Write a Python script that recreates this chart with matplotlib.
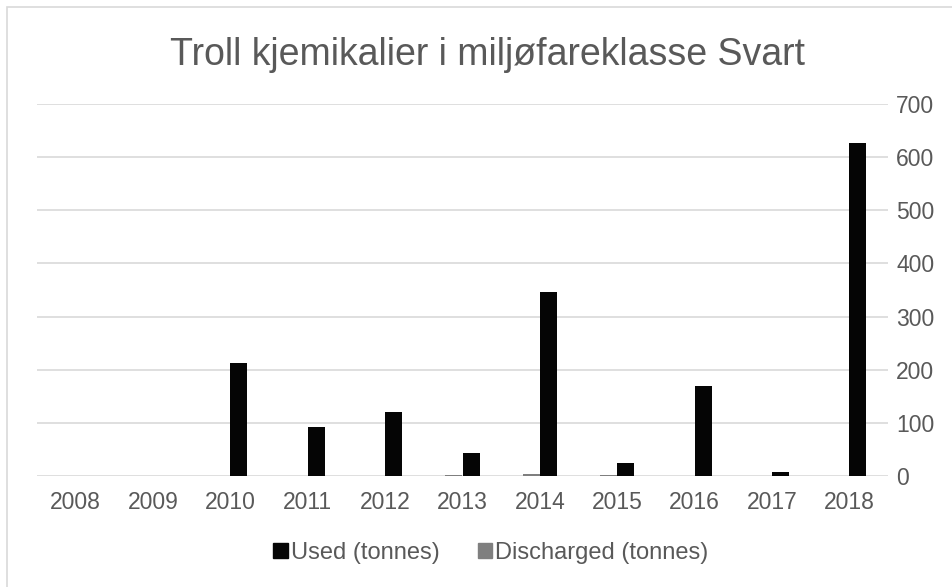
import matplotlib
matplotlib.use("Agg")
import matplotlib.pyplot as plt
from matplotlib.patches import Rectangle, Patch
import numpy as np

years = ["2008", "2009", "2010", "2011", "2012", "2013", "2014", "2015", "2016", "2017", "2018"]
used = [0, 0, 212, 92, 120, 44, 347, 25, 170, 8, 627]
discharged = [0, 0, 0, 0, 0, 1, 3, 1, 0, 0, 0]
title = "Troll kjemikalier i miljøfareklasse Svart"
yticks = [0, 100, 200, 300, 400, 500, 600, 700]

plt.rcParams['font.family'] = ['Liberation Sans', 'DejaVu Sans']
W, H = 953, 587
fig = plt.figure(figsize=(W / 100, H / 100), dpi=100)
fig.patches.append(Rectangle((7 / W, -0.1), 1.2, 1 - 7 / H + 0.1, transform=fig.transFigure,
                             fill=False, edgecolor="#d9d9d9", linewidth=1.2))

ax = fig.add_axes([37 / W, 1 - 476 / H, (888 - 37) / W, (476 - 104) / H])
x = np.arange(len(years))
bw = 0.22
ax.bar(x + bw / 2, used, width=bw, color="#050505", label="Used (tonnes)", zorder=3)
ax.bar(x - bw / 2, discharged, width=bw, color="#7f7f7f", label="Discharged (tonnes)", zorder=3)

ax.set_xlim(-0.5, len(years) - 0.5)
ax.set_ylim(0, 700)
ax.set_yticks(yticks)
ax.set_xticks(x)
ax.set_xticklabels(years)
ax.yaxis.tick_right()
ax.tick_params(axis="both", length=0, labelsize=16.5, labelcolor="#595959")
ax.tick_params(axis="y", pad=6)
ax.tick_params(axis="x", pad=10.5)
ax.grid(axis="y", color="#d9d9d9", linewidth=1.2, zorder=0)
for s in ax.spines.values():
    s.set_visible(False)

fig.text(488 / W, 1 - 55 / H, title, ha="center", va="center", fontsize=27, color="#595959")

handles = [Patch(color="#050505"), Patch(color="#7f7f7f")]
fig.legend(handles, ["Used (tonnes)", "Discharged (tonnes)"], loc="center",
           bbox_to_anchor=(491 / W, 1 - 553 / H), ncol=2, frameon=False,
           fontsize=17, labelcolor="#595959", handlelength=0.6, handleheight=0.6,
           handletextpad=0.15, columnspacing=1.6)

fig.savefig("out.png", dpi=100)
